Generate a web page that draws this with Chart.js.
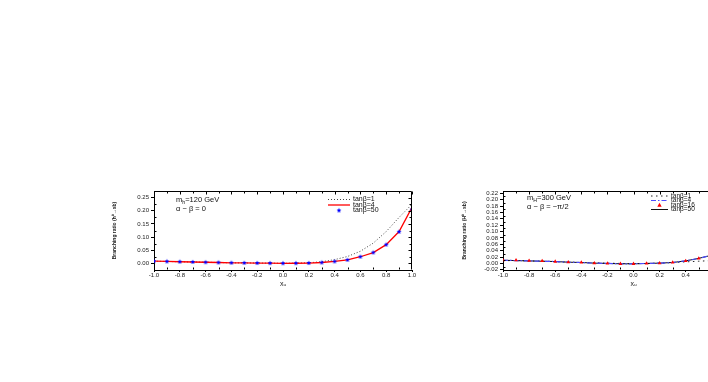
<!DOCTYPE html>
<html>
<head>
    <title> Branching ratio vs x_u </title>
    <script src="https://cdn.jsdelivr.net/npm/chart.js@4.4.3/dist/chart.umd.js"></script>
</head>

<body>
    <canvas id="lightChart" width="320" height="105"></canvas>
    <canvas id="heavyChart" width="322" height="105"></canvas>

    <script>
        // x positions of the markers, shared by both panels
        const xVals = [-1.0, -0.9, -0.8, -0.7, -0.6, -0.5, -0.4, -0.3, -0.2, -0.1, 0.0,
            0.1, 0.2, 0.3, 0.4, 0.5, 0.6, 0.7, 0.8, 0.9, 1.0];
        const xTicks = [-1.0, -0.8, -0.6, -0.4, -0.2, 0.0, 0.2, 0.4, 0.6, 0.8, 1.0];

        // left panel: m_h = 120 GeV, alpha - beta = 0
        const lightTicks = [0.00, 0.05, 0.10, 0.15, 0.20, 0.25];
        const light_tb1 = [0.008, 0.007, 0.006, 0.005, 0.004, 0.003, 0.002, 0.0015, 0.001, 0.0005, 0.0,
            0.0005, 0.002, 0.006, 0.014, 0.026, 0.046, 0.077, 0.121, 0.175, 0.225];
        const light_tb4 = [0.008, 0.007, 0.006, 0.005, 0.004, 0.003, 0.002, 0.0015, 0.001, 0.0005, 0.0,
            0.0003, 0.001, 0.003, 0.007, 0.013, 0.025, 0.041, 0.071, 0.121, 0.213];
        const light_tb50 = [0.008, 0.007, 0.006, 0.005, 0.004, 0.003, 0.002, 0.0015, 0.001, 0.0005, 0.0,
            0.0003, 0.001, 0.003, 0.007, 0.013, 0.025, 0.041, 0.071, 0.120, 0.205];

        // right panel: m_H = 300 GeV, alpha - beta = -pi/2
        const heavyTicks = [-0.02, 0.00, 0.02, 0.04, 0.06, 0.08, 0.10, 0.12, 0.14, 0.16, 0.18, 0.20, 0.22];
        const heavy_tb1 = [0.009, 0.009, 0.008, 0.007, 0.006, 0.004, 0.003, 0.002, 0.001, 0.0, -0.001,
            0.0, 0.001, 0.003, 0.005, 0.007, 0.009, 0.012, 0.016, 0.021, 0.027];
        const heavy_tb4 = [0.010, 0.009, 0.008, 0.007, 0.006, 0.004, 0.003, 0.001, 0.0, -0.001, -0.001,
            0.0, 0.001, 0.003, 0.008, 0.016, 0.026, 0.040, 0.060, 0.090, 0.130];
        const heavy_tb16 = [0.010, 0.010, 0.009, 0.008, 0.006, 0.004, 0.003, 0.001, 0.0, -0.001, -0.001,
            0.0, 0.001, 0.003, 0.008, 0.016, 0.026, 0.040, 0.060, 0.090, 0.130];
        const heavy_tb50 = [0.010, 0.009, 0.008, 0.007, 0.006, 0.004, 0.003, 0.001, 0.0, -0.001, -0.001,
            0.0, 0.001, 0.003, 0.008, 0.016, 0.026, 0.040, 0.060, 0.090, 0.130];

        const family = "'Liberation Sans', Arial, sans-serif";
        Chart.defaults.font.family = family;
        Chart.defaults.color = '#222';

        function points(arr) {
            return xVals.map((x, i) => ({ x: x, y: arr[i] }));
        }

        // small filled star used as a marker
        function makeStar(color, r) {
            const c = document.createElement('canvas');
            const s = Math.ceil(r * 2) + 2;
            c.width = c.height = s;
            const g = c.getContext('2d');
            g.fillStyle = color;
            g.beginPath();
            for (let i = 0; i < 10; i++) {
                const rad = i % 2 ? r * 0.45 : r;
                const a = -Math.PI / 2 + i * Math.PI / 5;
                g.lineTo(s / 2 + rad * Math.cos(a), s / 2 + rad * Math.sin(a));
            }
            g.closePath();
            g.fill();
            return c;
        }
        const blueStar = makeStar('#0000ff', 2.6);

        function axes(yMin, yMax, yTicks, yWidth, yTitle) {
            return {
                x: {
                    type: 'linear', min: -1, max: 1,
                    afterFit: s => { s.height = 20; },
                    afterBuildTicks: s => { s.ticks = xTicks.map(v => ({ value: v })); },
                    grid: { drawOnChartArea: false, tickLength: 2, color: '#000' },
                    border: { color: '#000' },
                    ticks: { font: { size: 6 }, padding: 0, maxRotation: 0, autoSkip: false, callback: v => v.toFixed(1) },
                    title: { display: true, text: 'xᵤ', font: { size: 7 }, padding: { top: 0, bottom: 2 } }
                },
                y: {
                    min: yMin, max: yMax,
                    afterFit: s => { s.width = yWidth; },
                    afterBuildTicks: s => { s.ticks = yTicks.map(v => ({ value: v })); },
                    grid: { drawOnChartArea: false, tickLength: 3, color: '#000' },
                    border: { color: '#000' },
                    ticks: { font: { size: 6 }, padding: 2, autoSkip: false, callback: v => v.toFixed(2) },
                    title: { display: true, text: yTitle, font: { size: 5, weight: 'bold' }, padding: { top: 12, bottom: 0 } }
                }
            };
        }

        function drawSub(ctx, x, y, base, sub, rest, size) {
            ctx.font = size + 'px ' + family;
            ctx.fillText(base, x, y);
            let w = ctx.measureText(base).width;
            ctx.font = (size * 0.7) + 'px ' + family;
            ctx.fillText(sub, x + w, y + size * 0.3);
            w += ctx.measureText(sub).width;
            ctx.font = size + 'px ' + family;
            ctx.fillText(rest, x + w, y);
        }

        // frame, inner ticks, text notes and the legend inside the plot
        function decorations(cfg) {
            return {
                id: 'decorations',
                afterDraw(chart) {
                    const { ctx, chartArea: a, scales: { x, y } } = chart;
                    ctx.save();
                    ctx.strokeStyle = '#000';
                    ctx.lineWidth = 1;
                    const L = Math.round(a.left) + 0.5, R = Math.round(a.right) - 0.5;
                    const T = Math.round(a.top) + 0.5, B = Math.round(a.bottom) - 0.5;
                    ctx.beginPath();
                    ctx.moveTo(L, T); ctx.lineTo(R, T); ctx.lineTo(R, B);
                    const seg = (x1, y1, x2, y2) => { ctx.moveTo(x1, y1); ctx.lineTo(x2, y2); };
                    const yv = y.ticks.map(t => t.value);
                    yv.forEach((v, i) => {
                        const py = Math.round(y.getPixelForValue(v)) + 0.5;
                        seg(R, py, R - 3, py);
                        if (i < yv.length - 1) {
                            const my = Math.round(y.getPixelForValue((v + yv[i + 1]) / 2)) + 0.5;
                            seg(L, my, L + 2, my);
                            seg(R, my, R - 2, my);
                        }
                    });
                    const xv = x.ticks.map(t => t.value);
                    xv.forEach((v, i) => {
                        const px = Math.round(x.getPixelForValue(v)) + 0.5;
                        seg(px, T, px, T + 3);
                        if (i < xv.length - 1) {
                            const mx = Math.round(x.getPixelForValue((v + xv[i + 1]) / 2)) + 0.5;
                            seg(mx, B, mx, B - 2);
                            seg(mx, T, mx, T + 2);
                        }
                    });
                    ctx.stroke();

                    ctx.fillStyle = '#111';
                    ctx.textBaseline = 'middle';
                    drawSub(ctx, a.left + cfg.noteX, a.top + cfg.noteY, 'm', cfg.sub, cfg.mass, 7.5);
                    ctx.font = '7.5px ' + family;
                    ctx.fillText(cfg.angle, a.left + cfg.noteX, a.top + cfg.noteY + 9);

                    ctx.font = cfg.legendSize + 'px ' + family;
                    chart.data.datasets.forEach((ds, i) => {
                        const ly = a.top + cfg.legendY + i * cfg.legendGap;
                        const x0 = a.right - cfg.legendX, x1 = x0 + cfg.sampleW;
                        if (ds.showLine !== false) {
                            ctx.beginPath();
                            ctx.strokeStyle = ds.borderColor;
                            ctx.lineWidth = ds.borderWidth;
                            ctx.setLineDash(ds.borderDash || []);
                            ctx.moveTo(x0, ly); ctx.lineTo(x1, ly);
                            ctx.stroke();
                            ctx.setLineDash([]);
                        } else if (ds.pointStyle === 'triangle') {
                            const cx = (x0 + x1) / 2, r = ds.pointRadius;
                            ctx.fillStyle = ds.pointBackgroundColor;
                            ctx.beginPath();
                            ctx.moveTo(cx, ly - r); ctx.lineTo(cx + r, ly + r * 0.8); ctx.lineTo(cx - r, ly + r * 0.8);
                            ctx.closePath();
                            ctx.fill();
                        } else {
                            const img = ds.pointStyle;
                            ctx.drawImage(img, (x0 + x1) / 2 - img.width / 2, ly - img.height / 2);
                        }
                        ctx.fillStyle = '#111';
                        ctx.fillText(ds.label, x1 + 3, ly);
                    });
                    ctx.restore();
                }
            };
        }

        new Chart(document.getElementById('lightChart'), {
            type: 'line',
            data: {
                datasets: [{
                    label: 'tanβ=1', data: points(light_tb1),
                    borderColor: '#444', borderWidth: 1, borderDash: [1, 2],
                    pointRadius: 0, order: 3
                }, {
                    label: 'tanβ=4', data: points(light_tb4),
                    borderColor: '#ff0000', borderWidth: 1.3,
                    pointRadius: 0, order: 2
                }, {
                    label: 'tanβ=50', data: points(light_tb50),
                    showLine: false, pointStyle: blueStar, pointRadius: 3,
                    borderColor: '#0000ff', pointBackgroundColor: '#0000ff', order: 1
                }]
            },
            options: {
                responsive: false,
                animation: false,
                layout: { padding: { top: 6, right: 8, left: 0, bottom: 0 } },
                scales: axes(-0.0255, 0.2755, lightTicks, 54, 'Branching ratio (h⁰→sb)'),
                plugins: { legend: { display: false }, tooltip: { enabled: false } }
            },
            plugins: [decorations({
                sub: 'h', mass: '=120 GeV', angle: 'α − β = 0',
                noteX: 22, noteY: 9,
                legendX: 84, legendY: 8.5, legendGap: 5.5, sampleW: 22, legendSize: 7
            })]
        });

        new Chart(document.getElementById('heavyChart'), {
            type: 'line',
            data: {
                datasets: [{
                    label: 'tanβ=1', data: points(heavy_tb1),
                    borderColor: '#222', borderWidth: 1, borderDash: [1.5, 3.5],
                    pointRadius: 0, order: 4
                }, {
                    label: 'tanβ=4', data: points(heavy_tb4),
                    borderColor: '#4d4dff', borderWidth: 1.2, borderDash: [5, 2, 1.5, 2],
                    pointRadius: 0, order: 2
                }, {
                    label: 'tanβ=16', data: points(heavy_tb16),
                    showLine: false, pointStyle: 'triangle', pointRadius: 2.2,
                    borderColor: '#ff0000', pointBackgroundColor: '#ff0000', borderWidth: 0, order: 1
                }, {
                    label: 'tanβ=50', data: points(heavy_tb50),
                    borderColor: '#111', borderWidth: 1,
                    pointRadius: 0, order: 3
                }]
            },
            options: {
                responsive: false,
                animation: false,
                layout: { padding: { top: 6, right: 8, left: 0, bottom: 0 } },
                scales: axes(-0.0205, 0.227, heavyTicks, 53, 'Branching ratio (H⁰→sb)'),
                plugins: { legend: { display: false }, tooltip: { enabled: false } }
            },
            plugins: [decorations({
                sub: 'H', mass: '=300 GeV', angle: 'α − β = −π/2',
                noteX: 24, noteY: 7,
                legendX: 113, legendY: 5, legendGap: 4.5, sampleW: 17, legendSize: 6.5
            })]
        });
    </script>
</body>

<style>
    html, body {
        margin: 0;
        width: 708px;
        height: 382px;
        overflow: hidden;
        background-color: #ffffff;
    }

    #lightChart {
        position: absolute;
        left: 100px;
        top: 185px;
    }

    #heavyChart {
        position: absolute;
        left: 450px;
        top: 185px;
    }
</style>
</html>
